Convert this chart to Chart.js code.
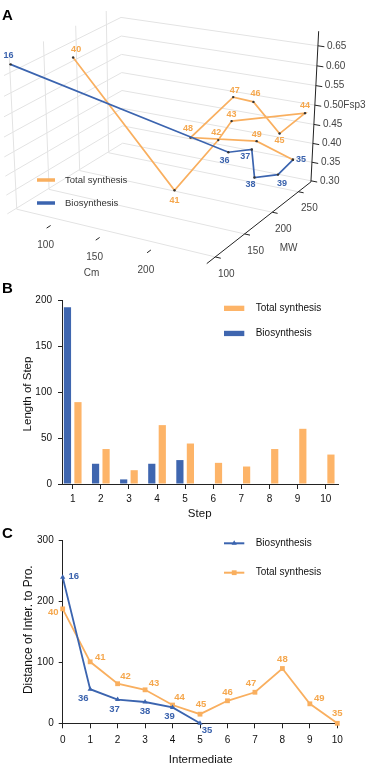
<!DOCTYPE html>
<html>
<head>
<meta charset="utf-8">
<title>Chart</title>
<script src="https://cdn.jsdelivr.net/npm/chart.js@4.4.1/dist/chart.umd.min.js"></script>
<style>
html,body{margin:0;padding:0;background:#fff;}
body{width:368px;height:765px;position:relative;overflow:hidden;}
.pane{position:absolute;left:0;width:368px;}
.letter{position:absolute;left:2px;font-family:"Liberation Sans",Arial,sans-serif;font-weight:bold;font-size:15px;line-height:15px;color:#000;}
</style>
</head>
<body>
<div class="pane" style="top:0;height:285px"><canvas id="chartA"></canvas></div>
<div class="pane" style="top:285px;height:240px"><canvas id="chartB"></canvas></div>
<div class="pane" style="top:520px;height:245px"><canvas id="chartC"></canvas></div>
<div class="letter" style="top:7px">A</div>
<div class="letter" style="top:280px">B</div>
<div class="letter" style="top:525px">C</div>
<script>
const ORANGE='#F9AF5F', BLUE='#3B64AF', ORANGE_BAR='#FDB468', BLUE_BAR='#3F66AF', ORANGE_TXT='#F5A74D', BLUE_TXT='#3A62AD';
const FONT='"Liberation Sans", Arial, sans-serif';
Chart.defaults.font.family=FONT;
Chart.defaults.color='#111';

// ================= Panel A data (3D: Cm, MW, Fsp3) =================
const bioCpdA=['16','36','37','38','39','35'];
const bioCm  =[68.3, 198.6, 212.7, 216.8, 230.7, 251.6];
const bioMw  =[82.3, 218.8, 235.4, 234.2, 252.0, 236.8];
const bioFsp3=[0.691, 0.405, 0.403, 0.332, 0.329, 0.395];
const totCpdA=['40','41','42','43','44','45','46','47','48','49','35'];
const totCm  =[108.2, 163.9, 190.3, 197.9, 247.1, 244.5, 225.6, 205.4, 165.7, 226.5, 251.6];
const totMw  =[115.4, 185.8, 215.3, 224.7, 266.4, 223.5, 210.4, 212.4, 210.2, 216.9, 236.8];
const totFsp3=[0.696, 0.319, 0.436, 0.480, 0.485, 0.472, 0.555, 0.556, 0.435, 0.450, 0.395];
const cmTicks=[100,150,200];
const mwTicks=[100,150,200,250];
const fspTicks=[0.30,0.35,0.40,0.45,0.50,0.55,0.60,0.65];

// ================= Panel B data =================
const stepIdx=[1,2,3,4,5,6,7,8,9,10];
const bioStepLen=[192,22,5,22,26,null,null,null,null,null];
const totStepLen=[89,38,15,64,44,23,19,38,60,32];
const stepTicksY=[0,50,100,150,200];

// ================= Panel C data =================
const interIdx=['0','1','2','3','4','5','6','7','8','9','10'];
const bioDist=[240,56,39,35,26,0];
const totDist=[188,101,65,55,30,15,37,51,90,32,0];
const bioCpdC=['16','36','37','38','39','35'];
const totCpdC=['40','41','42','43','44','45','46','47','48','49','35'];
const distTicksY=[0,100,200,300];

// ================= 3D projection for panel A =================
const cmRange=[54,252], mwRange=[86,275], fspRange=[0.297,0.686];
const floorFsp3=0.30;
const floorCalib=[[54,100,13,210],[252,100,216,259],[252,250,301,192],[54,250,107,152]];
const vertVanish=[160,3200];
const fspTopCalib=[0.65,43];
const nu=cm=>(cm-cmRange[0])/(cmRange[1]-cmRange[0]);
const nv=mw=>(mw-mwRange[0])/(mwRange[1]-mwRange[0]);
function gauss(A,b){const n=b.length;const M=A.map((r,i)=>r.slice().concat([b[i]]));
 for(let c=0;c<n;c++){let p=c;for(let r=c+1;r<n;r++)if(Math.abs(M[r][c])>Math.abs(M[p][c]))p=r;const tmp=M[c];M[c]=M[p];M[p]=tmp;
  for(let r=0;r<n;r++){if(r===c)continue;const k=M[r][c]/M[c][c];if(k===0)continue;for(let j=c;j<=n;j++)M[r][j]-=k*M[c][j];}}
 return M.map((r,i)=>r[n]/r[i]);}
const H=(function(){
 const A=[],b=[];
 floorCalib.forEach(([cm,mw,x,y])=>{const u=nu(cm),v=nv(mw);A.push([u,v,1,0,0,0,-x*u,-x*v]);b.push(x);A.push([0,0,0,u,v,1,-y*u,-y*v]);b.push(y);});
 const h=gauss(A,b);
 const cu=[h[0],h[3],h[6]], cv=[h[1],h[4],h[7]], c1=[h[2],h[5],1];
 const X=[0,1,2].map(r=>cu[r]+cv[r]+c1[r]);
 const t=(fspTopCalib[1]*X[2]-X[1])/(vertVanish[1]-fspTopCalib[1]);
 const lam=t/(fspTopCalib[0]-floorFsp3);
 return {cu,cv,c1,cf:[lam*vertVanish[0],lam*vertVanish[1],lam]};
})();
function proj(cm,mw,f){const u=nu(cm),v=nv(mw),g=f-floorFsp3;const h=[0,1,2].map(r=>H.cu[r]*u+H.cv[r]*v+H.cf[r]*g+H.c1[r]);return [h[0]/h[2],h[1]/h[2]];}

// ================= Chart A =================
const labelOffA={'16':[-2,-8.5],'36':[-4,8.5],'37':[-6.5,7.5],'38':[-4,7.5],'39':[4,8.5],'35':[8,0],
'40':[3,-8],'41':[0,10.5],'42':[-2,-8],'43':[0,-7],'44':[0,-7.5],'45':[0,7],'46':[2,-8],'47':[1.5,-7],'48':[-2.5,-9],'49':[0,-7]};
const [cmMin,cmMax]=cmRange,[mwMin,mwMax]=mwRange,[fMin,fMax]=fspRange;
const toXY=ps=>ps.map(p=>({x:p[0],y:p[1]}));
const segDS=(ps,color,width,order)=>({data:toXY(ps),showLine:true,borderColor:color,borderWidth:width,pointRadius:0,fill:false,tension:0,order});
const dsA=[];
dsA.push({data:toXY(bioCm.map((c,i)=>proj(c,bioMw[i],bioFsp3[i]))),showLine:true,borderColor:BLUE,borderWidth:1.7,pointRadius:1.2,pointBackgroundColor:'#333',pointBorderWidth:0,tension:0,order:0});
dsA.push({data:toXY(totCm.map((c,i)=>proj(c,totMw[i],totFsp3[i]))),showLine:true,borderColor:ORANGE,borderWidth:1.7,pointRadius:1.2,pointBackgroundColor:'#333',pointBorderWidth:0,tension:0,order:1});
const GRID='#e3e3e3';
dsA.push(segDS([proj(cmMax,mwMin,fMin),proj(cmMax,mwMax,fMin)],'#222',1,5));
dsA.push(segDS([proj(cmMax,mwMax,fMin),proj(cmMax,mwMax,fMax)],'#222',1,5));
mwTicks.forEach(m=>dsA.push(segDS([proj(cmMax,m,fMin),proj(cmMax+5,m,fMin)],'#222',1,5)));
fspTicks.forEach(f=>dsA.push(segDS([proj(cmMax,mwMax,f),proj(cmMax+6,mwMax,f)],'#222',1,5)));
cmTicks.forEach(c=>dsA.push(segDS([proj(c,mwMin,fMin),proj(c,mwMin-6,fMin)],'#222',1,5)));
mwTicks.forEach(m=>dsA.push(segDS([proj(cmMin,m,fMin),proj(cmMax,m,fMin)],GRID,1,10)));
mwTicks.forEach(m=>dsA.push(segDS([proj(cmMin,m,fMin),proj(cmMin,m,fMax)],GRID,1,10)));
fspTicks.forEach(f=>dsA.push(segDS([proj(cmMin,mwMin,f),proj(cmMin,mwMax,f),proj(cmMax,mwMax,f)],GRID,1,10)));

const textA={id:'textA',afterDatasetsDraw(chart){
 const ctx=chart.ctx,sx=chart.scales.x,sy=chart.scales.y;
 const px=p=>[sx.getPixelForValue(p[0]),sy.getPixelForValue(p[1])];
 ctx.save();ctx.textBaseline='middle';
 ctx.font='bold 9px '+FONT;ctx.textAlign='center';
 ctx.fillStyle=ORANGE_TXT;
 totCpdA.forEach((id,i)=>{if(i===totCpdA.length-1)return;const p=px(proj(totCm[i],totMw[i],totFsp3[i]));const o=labelOffA[id];ctx.fillText(id,p[0]+o[0],p[1]+o[1]);});
 ctx.fillStyle=BLUE_TXT;
 bioCpdA.forEach((id,i)=>{const p=px(proj(bioCm[i],bioMw[i],bioFsp3[i]));const o=labelOffA[id];ctx.fillText(id,p[0]+o[0],p[1]+o[1]);});
 ctx.font='10px '+FONT;ctx.fillStyle='#444';ctx.textAlign='left';
 fspTicks.forEach(f=>{const p=px(proj(cmMax,mwMax,f));const s=f.toFixed(2);ctx.fillText(s,p[0]+9,p[1]);
  if(s==='0.50'){ctx.fillText('Fsp3',p[0]+9+ctx.measureText(s).width,p[1]);}});
 ctx.textAlign='center';
 mwTicks.forEach(m=>{const p=px(proj(cmMax,m,fMin));ctx.fillText(String(m),p[0]+11,p[1]+17);});
 const pm=px(proj(cmMax,175,fMin));ctx.fillText('MW',pm[0]+30,pm[1]+25);
 cmTicks.forEach(c=>{const p=px(proj(c,mwMin,fMin));ctx.fillText(String(c),p[0]-5,p[1]+20);});
 const pc=px(proj(150,mwMin,fMin));ctx.fillText('Cm',pc[0]-8,pc[1]+36);
 ctx.lineWidth=3.5;ctx.strokeStyle=ORANGE;ctx.beginPath();ctx.moveTo(37,180);ctx.lineTo(55,180);ctx.stroke();
 ctx.strokeStyle=BLUE;ctx.beginPath();ctx.moveTo(37,203);ctx.lineTo(55,203);ctx.stroke();
 ctx.font='9.5px '+FONT;ctx.fillStyle='#333';ctx.textAlign='left';
 ctx.fillText('Total synthesis',65,180);ctx.fillText('Biosynthesis',65,203);
 ctx.restore();}};

new Chart(document.getElementById('chartA'),{
 type:'scatter',data:{datasets:dsA},
 options:{animation:false,responsive:true,maintainAspectRatio:false,events:[],layout:{padding:0},
  plugins:{legend:{display:false},tooltip:{enabled:false}},
  scales:{x:{type:'linear',min:0,max:368,display:false},y:{type:'linear',min:0,max:285,reverse:true,display:false}}},
 plugins:[textA]});

// ================= Chart B =================
const textB={id:'textB',afterDraw(chart){const ctx=chart.ctx;const T=285;ctx.save();
 ctx.fillStyle='#111';ctx.textAlign='center';ctx.textBaseline='middle';
 ctx.font='11.5px '+FONT;ctx.fillText('Step',199.7,513.5-T);
 ctx.save();ctx.translate(27.7,394-T);ctx.rotate(-Math.PI/2);ctx.fillText('Length of Step',0,0);ctx.restore();
 ctx.fillStyle=ORANGE_BAR;ctx.fillRect(224,305.7-T,20.3,5.3);
 ctx.fillStyle=BLUE_BAR;ctx.fillRect(224,330.8-T,20.3,5.3);
 ctx.fillStyle='#111';ctx.textAlign='left';ctx.font='10px '+FONT;
 ctx.fillText('Total synthesis',255.7,308.3-T);ctx.fillText('Biosynthesis',255.7,333.3-T);
 ctx.restore();}};
new Chart(document.getElementById('chartB'),{
 type:'bar',
 data:{datasets:[
  {label:'Biosynthesis',data:stepIdx.map((s,i)=>({x:s,y:bioStepLen[i]})),backgroundColor:BLUE_BAR,borderWidth:0,categoryPercentage:0.747,barPercentage:0.686},
  {label:'Total synthesis',data:stepIdx.map((s,i)=>({x:s,y:totStepLen[i]})),backgroundColor:ORANGE_BAR,borderWidth:0,categoryPercentage:0.747,barPercentage:0.686}]},
 options:{animation:false,responsive:true,maintainAspectRatio:false,events:[],
  layout:{padding:{top:15,right:30,left:0,bottom:0}},
  plugins:{legend:{display:false},tooltip:{enabled:false}},
  scales:{
   x:{type:'linear',offset:false,min:0.619,max:10.438,afterBuildTicks:s=>{s.ticks=stepIdx.map(v=>({value:v}));},afterFit:s=>{s.height=41;},
      grid:{display:true,offset:false,drawOnChartArea:false,drawTicks:true,tickLength:5,color:'#222'},
      border:{display:true,color:'#222',width:1},
      ticks:{font:{size:10},color:'#111',padding:4,maxRotation:0,autoSkip:false}},
   y:{type:'linear',min:0,max:200,afterBuildTicks:s=>{s.ticks=stepTicksY.map(v=>({value:v}));},afterFit:s=>{s.width=62;},
      grid:{display:true,drawOnChartArea:false,drawTicks:true,tickLength:4,color:'#222'},
      border:{display:true,color:'#222',width:1},
      ticks:{font:{size:10},color:'#111',padding:6}}}},
 plugins:[textB]});

// ================= Chart C =================
const bioLabOffC=[[11,-1],[-7,9],[-3,9.5],[0,9.7],[-3,9],[7,7.5]];
const totLabOffC=[[-9.5,4],[10,-4],[8,-7],[9,-6],[7,-8],[1,-9.5],[0,-8.5],[-4,-8.5],[0,-9],[9.5,-5],[0,-9.5]];
const textC={id:'textC',afterDatasetsDraw(chart){const ctx=chart.ctx;const T=520;ctx.save();
 ctx.font='bold 9.5px '+FONT;ctx.textAlign='center';ctx.textBaseline='middle';
 const m0=chart.getDatasetMeta(0),m1=chart.getDatasetMeta(1);
 ctx.fillStyle=BLUE_TXT;m0.data.forEach((pt,i)=>{const o=bioLabOffC[i];ctx.fillText(bioCpdC[i],pt.x+o[0],pt.y+o[1]);});
 ctx.fillStyle=ORANGE_TXT;m1.data.forEach((pt,i)=>{const o=totLabOffC[i];ctx.fillText(totCpdC[i],pt.x+o[0],pt.y+o[1]);});
 ctx.fillStyle='#111';ctx.font='11.5px '+FONT;ctx.fillText('Intermediate',200.8,760-T);
 ctx.save();ctx.translate(28.3,629.7-T);ctx.rotate(-Math.PI/2);ctx.font='12px '+FONT;ctx.fillText('Distance of Inter. to Pro.',0,0);ctx.restore();
 ctx.lineWidth=2;ctx.strokeStyle=BLUE;ctx.beginPath();ctx.moveTo(224,543.3-T);ctx.lineTo(244.3,543.3-T);ctx.stroke();
 ctx.fillStyle=BLUE;Chart.helpers.drawPoint(ctx,{pointStyle:'triangle',radius:3,borderWidth:0,rotation:0},234.2,543.3-T);
 ctx.strokeStyle=ORANGE;ctx.beginPath();ctx.moveTo(224,572.7-T);ctx.lineTo(244.3,572.7-T);ctx.stroke();
 ctx.fillStyle=ORANGE;Chart.helpers.drawPoint(ctx,{pointStyle:'rect',radius:3.4,borderWidth:0,rotation:0},234.2,572.7-T);
 ctx.fillStyle='#111';ctx.textAlign='left';ctx.font='10px '+FONT;
 ctx.fillText('Biosynthesis',255.7,543.3-T);ctx.fillText('Total synthesis',255.7,572.7-T);
 ctx.restore();}};
new Chart(document.getElementById('chartC'),{
 type:'line',
 data:{labels:interIdx,datasets:[
  {label:'Biosynthesis',data:bioDist,borderColor:BLUE,backgroundColor:BLUE,borderWidth:1.8,pointStyle:'triangle',pointRadius:3,pointBorderWidth:0,pointBackgroundColor:BLUE,clip:false,tension:0},
  {label:'Total synthesis',data:totDist,borderColor:ORANGE,backgroundColor:ORANGE,borderWidth:1.8,pointStyle:'rect',pointRadius:3.4,pointBorderWidth:0,pointBackgroundColor:ORANGE,clip:false,tension:0}]},
 options:{animation:false,responsive:true,maintainAspectRatio:false,events:[],
  layout:{padding:{top:20.7,right:30.7,left:0,bottom:0}},
  plugins:{legend:{display:false},tooltip:{enabled:false}},
  scales:{
   x:{type:'category',offset:false,afterFit:s=>{s.height=41.7;},
      grid:{display:true,offset:false,drawOnChartArea:false,drawTicks:true,tickLength:5,color:'#222'},
      border:{display:true,color:'#222',width:1},
      ticks:{font:{size:10},color:'#111',padding:6,maxRotation:0,autoSkip:false}},
   y:{type:'linear',min:0,max:300,afterBuildTicks:s=>{s.ticks=distTicksY.map(v=>({value:v}));},afterFit:s=>{s.width=62.7;},
      grid:{display:true,drawOnChartArea:false,drawTicks:true,tickLength:4,color:'#222'},
      border:{display:true,color:'#222',width:1},
      ticks:{font:{size:10},color:'#111',padding:5}}}},
 plugins:[textC]});
</script>
</body>
</html>
